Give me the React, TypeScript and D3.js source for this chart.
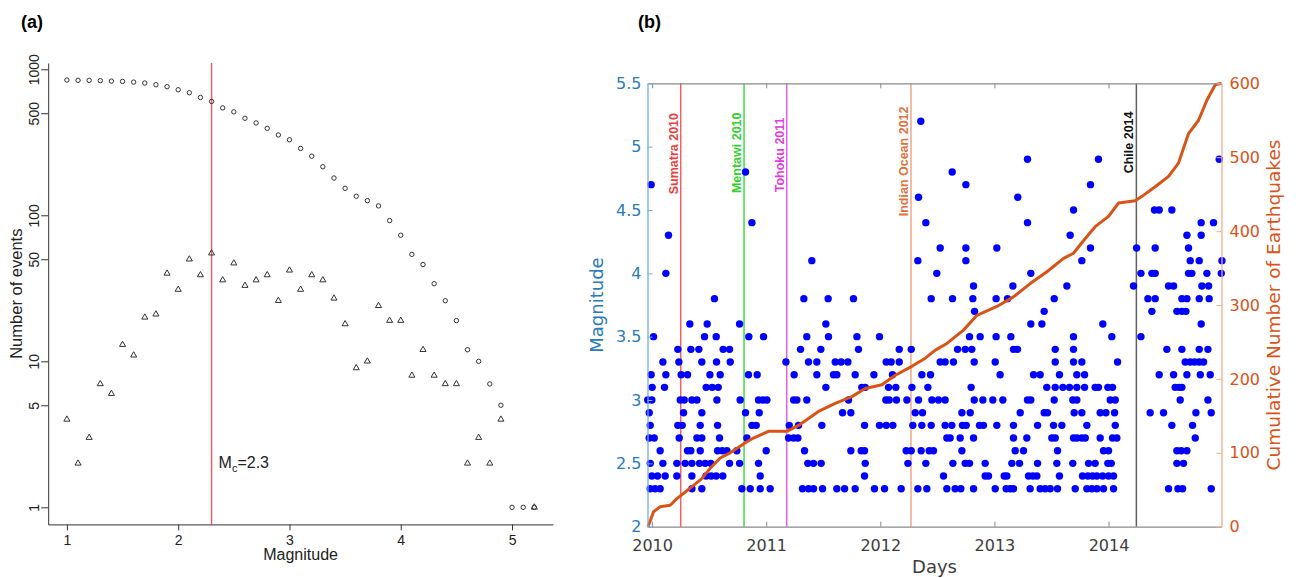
import React, { useEffect, useRef } from 'react';
import * as d3 from 'd3';

// ---------- panel (a): frequency-magnitude distribution ----------
const magBins = [
  1.0, 1.1, 1.2, 1.3, 1.4, 1.5, 1.6, 1.7, 1.8, 1.9, 2.0, 2.1, 2.2, 2.3, 2.4,
  2.5, 2.6, 2.7, 2.8, 2.9, 3.0, 3.1, 3.2, 3.3, 3.4, 3.5, 3.6, 3.7, 3.8, 3.9,
  4.0, 4.1, 4.2, 4.3, 4.4, 4.5, 4.6, 4.7, 4.8, 4.9, 5.0, 5.1, 5.2,
];
// cumulative number of events (circles)
const cumulativeEvents = [
  844, 840, 840, 836, 830, 826, 817, 805, 784, 760, 724, 691, 641, 602, 544,
  511, 462, 429, 394, 355, 329, 287, 254, 215, 180, 153, 135, 126, 116, 92,
  73, 54, 46, 34, 26, 19, 12, 10, 7, 5, 1, 1, 1,
];
// non-cumulative number of events per bin (triangles)
const binEvents: (number | null)[] = [
  4, 2, 3, 7, 6, 13, 11, 20, 21, 40, 31, 50, 39, 55, 36,
  47, 33, 36, 39, 26, 42, 31, 39, 36, 27, 18, 9, 10, 24, 19,
  19, 8, 12, 8, 7, 7, 2, 3, 2, 4, null, null, 1,
];
const countTicks = [1, 5, 10, 50, 100, 500, 1000];
const magTicks = [1, 2, 3, 4, 5];
const completenessMag = 2.3;

// ---------- panel (b): events through time ----------
const magnitudeRows = [
  2.3, 2.4, 2.5, 2.6, 2.7, 2.8, 2.9, 3.0, 3.1, 3.2, 3.3, 3.4, 3.5, 3.6, 3.7,
  3.8, 3.9, 4.0, 4.1, 4.2, 4.3, 4.4, 4.5, 4.6, 4.7, 4.8, 4.9, 5.2,
];
// event times (decimal years), one list per magnitude row
const eventYears: number[][] = [
  [2009.984, 2010.027, 2010.071, 2010.349, 2010.436, 2010.787, 2010.86, 2010.948, 2011.035, 2011.318, 2011.371, 2011.415, 2011.494, 2011.619, 2011.687, 2011.78, 2011.949, 2012.037, 2012.183, 2012.329, 2012.408, 2012.583, 2012.656, 2012.706, 2012.817, 2013.007, 2013.103, 2013.138, 2013.167, 2013.313, 2013.401, 2013.445, 2013.489, 2013.553, 2013.708, 2013.81, 2013.854, 2013.898, 2013.956, 2014.044, 2014.526, 2014.608, 2014.649, 2014.9],
  [2009.998, 2010.048, 2010.115, 2010.217, 2010.349, 2010.474, 2010.518, 2010.562, 2010.62, 2010.948, 2011.862, 2012.554, 2012.919, 2012.948, 2013.086, 2013.109, 2013.299, 2013.337, 2013.372, 2013.57, 2013.772, 2013.819, 2013.86, 2013.898, 2013.948, 2014.0, 2014.044],
  [2009.984, 2010.095, 2010.217, 2010.29, 2010.349, 2010.416, 2010.466, 2010.515, 2010.679, 2010.767, 2010.933, 2011.365, 2011.415, 2011.482, 2011.868, 2012.242, 2012.399, 2012.636, 2012.744, 2012.782, 2012.919, 2013.153, 2013.22, 2013.378, 2013.547, 2013.687, 2013.825, 2013.883, 2013.994, 2014.024, 2014.599, 2014.657],
  [2010.071, 2010.311, 2010.34, 2010.422, 2010.574, 2010.615, 2010.656, 2010.743, 2011.0, 2011.336, 2011.742, 2011.833, 2011.862, 2012.227, 2012.271, 2012.358, 2012.429, 2012.466, 2012.715, 2013.182, 2013.255, 2013.553, 2013.956, 2014.0, 2014.599, 2014.637, 2014.687],
  [2009.975, 2010.019, 2010.238, 2010.393, 2010.436, 2010.591, 2010.831, 2011.196, 2011.24, 2011.278, 2012.583, 2012.612, 2012.7, 2012.817, 2013.167, 2013.284, 2013.503, 2013.533, 2013.693, 2013.722, 2013.766, 2013.796, 2013.927, 2014.035, 2014.073, 2014.76],
  [2009.984, 2010.226, 2010.264, 2010.422, 2010.574, 2010.875, 2010.913, 2011.202, 2011.283, 2011.488, 2011.862, 2011.993, 2012.052, 2012.11, 2012.285, 2012.364, 2012.446, 2012.568, 2012.627, 2012.72, 2012.753, 2012.869, 2012.904, 2013.021, 2013.167, 2013.378, 2013.518, 2013.591, 2013.81, 2014.059, 2014.555, 2014.736],
  [2009.975, 2010.276, 2010.436, 2010.819, 2010.939, 2011.669, 2011.742, 2012.306, 2012.37, 2012.715, 2012.788, 2013.226, 2013.436, 2013.465, 2013.699, 2013.766, 2013.927, 2013.977, 2014.053, 2014.365, 2014.482, 2014.766, 2014.9],
  [2009.962, 2009.998, 2010.247, 2010.282, 2010.349, 2010.393, 2010.568, 2010.772, 2010.933, 2010.971, 2011.006, 2011.24, 2011.269, 2011.356, 2011.722, 2012.049, 2012.078, 2012.142, 2012.233, 2012.335, 2012.452, 2012.51, 2012.568, 2012.823, 2012.899, 2012.986, 2013.074, 2013.29, 2013.319, 2013.524, 2013.687, 2013.722, 2014.015, 2014.059, 2014.628, 2014.871],
  [2010.001, 2010.109, 2010.474, 2010.527, 2010.58, 2011.523, 2011.838, 2011.868, 2012.072, 2012.136, 2012.277, 2012.417, 2012.796, 2013.459, 2013.533, 2013.6, 2013.658, 2013.722, 2013.79, 2013.883, 2013.912, 2013.994, 2014.035, 2014.584, 2014.619, 2014.643],
  [2009.992, 2010.121, 2010.255, 2010.311, 2010.507, 2010.597, 2010.845, 2010.921, 2011.245, 2011.444, 2011.59, 2011.619, 2011.78, 2011.944, 2012.107, 2012.364, 2012.44, 2013.05, 2013.343, 2013.401, 2013.57, 2013.722, 2013.79, 2014.444, 2014.57, 2014.687, 2014.804, 2014.891],
  [2010.095, 2010.235, 2010.436, 2010.565, 2010.685, 2011.173, 2011.371, 2011.444, 2011.605, 2011.657, 2011.716, 2012.052, 2012.095, 2012.166, 2012.525, 2012.568, 2012.641, 2012.823, 2013.007, 2013.533, 2013.693, 2013.766, 2014.079, 2014.672, 2014.716, 2014.754, 2014.795, 2014.833],
  [2010.226, 2010.34, 2010.41, 2010.623, 2010.679, 2011.301, 2011.479, 2011.809, 2012.166, 2012.271, 2012.677, 2012.744, 2012.802, 2013.167, 2013.202, 2013.533, 2013.693, 2014.511, 2014.643, 2014.795, 2014.871],
  [2010.013, 2010.46, 2010.562, 2010.848, 2010.977, 2011.356, 2011.546, 2011.795, 2011.993, 2012.782, 2012.875, 2013.015, 2013.144, 2013.693, 2014.029, 2014.284],
  [2010.331, 2010.483, 2010.767, 2011.523, 2013.319, 2013.416, 2013.95, 2014.812],
  [2012.826, 2013.436, 2014.38, 2014.599, 2014.643, 2014.678],
  [2010.547, 2011.33, 2011.543, 2011.765, 2012.446, 2012.633, 2012.811, 2013.015, 2013.115, 2013.524, 2014.345, 2014.409, 2014.643, 2014.687, 2014.795, 2014.882],
  [2012.817, 2013.162, 2013.635, 2014.219, 2014.526, 2014.57, 2014.818, 2014.877],
  [2010.121, 2012.495, 2013.319, 2014.284, 2014.38, 2014.409, 2014.701, 2014.73, 2014.862, 2014.988],
  [2011.4, 2012.329, 2012.75, 2013.766, 2014.716, 2014.795, 2014.994],
  [2012.525, 2012.75, 2013.021, 2013.842, 2014.246, 2014.409, 2014.701],
  [2010.144, 2013.664, 2014.687, 2014.812],
  [2010.875, 2012.399, 2013.29, 2014.812, 2014.92],
  [2013.693, 2014.403, 2014.444, 2014.555],
  [2012.335, 2013.205],
  [2009.992, 2012.75, 2013.842],
  [2010.819, 2012.63],
  [2013.29, 2013.912, 2014.97],
  [2012.355],
];

// cumulative number of earthquakes (right axis)
const cumYears = [
  2009.965, 2010.012, 2010.071, 2010.159, 2010.217, 2010.275, 2010.363, 2010.436,
  2010.509, 2010.597, 2010.684, 2010.772, 2010.831, 2010.889, 2010.976, 2011.02,
  2011.181, 2011.283, 2011.458, 2011.605, 2011.751, 2011.868, 2012.014, 2012.131,
  2012.277, 2012.394, 2012.482, 2012.584, 2012.729, 2012.847, 2013.022, 2013.167,
  2013.314, 2013.46, 2013.606, 2013.693, 2013.796, 2013.883, 2014.0, 2014.088,
  2014.234, 2014.293, 2014.409, 2014.526, 2014.613, 2014.701, 2014.789, 2014.862,
  2014.935, 2014.99,
];
const cumCounts = [
  0, 20, 27, 29, 38, 45, 56, 65,
  79, 93, 100, 109, 115, 120, 126, 129,
  129, 137, 156, 167, 176, 187, 192, 205,
  217, 228, 239, 248, 266, 286, 298, 311,
  329, 345, 363, 370, 390, 406, 420, 438,
  441, 447, 460, 474, 492, 532, 550, 577,
  598, 600,
];

const mainshockNames = ['Sumatra 2010', 'Mentawi 2010', 'Tohoku 2011', 'Indian Ocean 2012', 'Chile 2014'];
const mainshockYears = [2010.251, 2010.806, 2011.18, 2012.269, 2014.244];

const yearTicks = [2010, 2011, 2012, 2013, 2014];
const magAxisTicks = [2, 2.5, 3, 3.5, 4, 4.5, 5, 5.5];
const countAxisTicks = [0, 100, 200, 300, 400, 500, 600];

// styling for the mainshock markers (line colour, text colour, top of label)
const mainshockStyle = [
  { line: '#f06060', text: '#e8403c', top: 113 },
  { line: '#3ee03e', text: '#30d030', top: 112.5 },
  { line: '#e35ee3', text: '#df3ddf', top: 117.5 },
  { line: '#f0a886', text: '#e0703a', top: 106.5 },
  { line: '#606060', text: '#111111', top: 111.5 },
];

const ARIAL = 'Liberation Sans, Arial, Helvetica, sans-serif';
const DEJAVU = 'DejaVu Sans, Verdana, sans-serif';

type G = d3.Selection<SVGGElement, unknown, null, undefined>;

function drawPanelA(g: G) {
  const left = 48.2, right = 553, top = 63, bottom = 524.4;
  const x = d3.scaleLinear().domain([0.832, 5.368]).range([left, right]);
  const y = d3.scaleLog().domain([10 ** -0.117, 10 ** 3.043]).range([bottom, top]);

  // completeness line
  g.append('line')
    .attr('x1', x(completenessMag)).attr('x2', x(completenessMag))
    .attr('y1', top).attr('y2', bottom)
    .attr('stroke', '#e65a5a').attr('stroke-width', 1.4);

  // cumulative counts: open circles
  g.selectAll('.cum')
    .data(magBins)
    .enter()
    .append('circle')
    .attr('cx', (d) => x(d))
    .attr('cy', (d, i) => y(cumulativeEvents[i]))
    .attr('r', 2.2)
    .attr('fill', 'none')
    .attr('stroke', '#333')
    .attr('stroke-width', 1);

  // per-bin counts: open triangles
  const tri = d3.symbol().type(d3.symbolTriangle).size(16);
  const binData = magBins
    .map((m, i) => ({ m, n: binEvents[i] }))
    .filter((d) => d.n !== null) as { m: number; n: number }[];
  g.selectAll('.bin')
    .data(binData)
    .enter()
    .append('path')
    .attr('d', tri)
    .attr('transform', (d) => `translate(${x(d.m)},${y(d.n)})`)
    .attr('fill', 'none')
    .attr('stroke', '#333')
    .attr('stroke-width', 1);

  // axes (L-shaped box)
  const yAxis = g.append('g')
    .attr('transform', `translate(${left},0)`)
    .call(d3.axisLeft(y).tickValues(countTicks).tickSize(7).tickSizeOuter(0).tickFormat(d3.format('d')));
  yAxis.select('.domain').attr('stroke', '#333');
  yAxis.selectAll('.tick line').attr('stroke', '#333');
  yAxis.selectAll('.tick text')
    .attr('x', null).attr('dy', null)
    .attr('transform', 'translate(-9,0) rotate(-90)')
    .attr('text-anchor', 'middle')
    .attr('font-size', 14).attr('font-family', ARIAL).attr('fill', '#222');

  const xAxis = g.append('g')
    .attr('transform', `translate(0,${bottom})`)
    .call(d3.axisBottom(x).tickValues(magTicks).tickSize(6).tickSizeOuter(0).tickPadding(5).tickFormat(d3.format('d')));
  xAxis.select('.domain').attr('stroke', '#333');
  xAxis.selectAll('.tick line').attr('stroke', '#333');
  xAxis.selectAll('.tick text').attr('font-size', 14).attr('font-family', ARIAL).attr('fill', '#222');

  g.append('text')
    .attr('x', (left + right) / 2).attr('y', 560)
    .attr('text-anchor', 'middle')
    .attr('font-size', 16).attr('font-family', ARIAL).attr('fill', '#222')
    .text('Magnitude');

  g.append('text')
    .attr('transform', `translate(22,${(top + bottom) / 2}) rotate(-90)`)
    .attr('text-anchor', 'middle')
    .attr('font-size', 16.5).attr('font-family', ARIAL).attr('fill', '#222')
    .text('Number of events');

  const mc = g.append('text')
    .attr('x', x(completenessMag) + 7).attr('y', 468)
    .attr('font-size', 16).attr('font-family', ARIAL).attr('fill', '#222');
  mc.append('tspan').text('M');
  mc.append('tspan').attr('font-size', 11).attr('dy', 4).text('c');
  mc.append('tspan').attr('dy', -4).text('=' + completenessMag);

  g.append('text')
    .attr('x', 21).attr('y', 28)
    .attr('font-size', 18).attr('font-weight', 'bold').attr('font-family', ARIAL)
    .text('(a)');
}

function drawPanelB(g: G) {
  const left = 647.5, right = 1221.5, top = 83.3, bottom = 526.7;
  const x = d3.scaleLinear().domain([2009.96, 2014.99]).range([left, right]);
  const yMag = d3.scaleLinear().domain([2, 5.5]).range([bottom, top]);
  const yCount = d3.scaleLinear().domain([0, 600]).range([bottom, top]);

  // mainshock lines
  mainshockYears.forEach((yr, i) => {
    const st = mainshockStyle[i];
    g.append('line')
      .attr('x1', x(yr)).attr('x2', x(yr))
      .attr('y1', top).attr('y2', bottom)
      .attr('stroke', st.line).attr('stroke-width', 1.5);
  });

  // events
  const points = magnitudeRows.flatMap((m, i) => eventYears[i].map((yr) => ({ yr, m })));
  g.selectAll('.quake')
    .data(points)
    .enter()
    .append('circle')
    .attr('cx', (d) => x(d.yr))
    .attr('cy', (d) => yMag(d.m))
    .attr('r', 3.7)
    .attr('fill', '#0000ff');

  // cumulative curve
  const line = d3.line<number>()
    .x((d) => x(d))
    .y((d, i) => yCount(cumCounts[i]));
  g.append('path')
    .datum(cumYears)
    .attr('fill', 'none')
    .attr('stroke', '#d95319')
    .attr('stroke-width', 3)
    .attr('stroke-linejoin', 'round')
    .attr('d', line);

  // mainshock labels
  mainshockYears.forEach((yr, i) => {
    const st = mainshockStyle[i];
    g.append('text')
      .attr('transform', `translate(${x(yr) - 3},${st.top}) rotate(-90)`)
      .attr('text-anchor', 'end')
      .attr('font-size', 12.5).attr('font-weight', 'bold').attr('font-family', ARIAL)
      .attr('fill', st.text)
      .text(mainshockNames[i]);
  });

  // top and bottom axes
  const topAxis = g.append('g')
    .attr('transform', `translate(0,${top})`)
    .call(d3.axisTop(x).tickValues(yearTicks).tickSize(-5).tickSizeOuter(0).tickFormat(() => ''));
  topAxis.select('.domain').attr('stroke', '#8a8a8a').attr('stroke-width', 1.3);
  topAxis.selectAll('.tick line').attr('stroke', '#8a8a8a');

  const bottomAxis = g.append('g')
    .attr('transform', `translate(0,${bottom})`)
    .call(d3.axisBottom(x).tickValues(yearTicks).tickSize(-5).tickSizeOuter(0).tickPadding(13).tickFormat(d3.format('d')));
  bottomAxis.select('.domain').attr('stroke', '#8a8a8a').attr('stroke-width', 1.3);
  bottomAxis.selectAll('.tick line').attr('stroke', '#8a8a8a');
  bottomAxis.selectAll('.tick text').attr('font-size', 16).attr('font-family', DEJAVU).attr('fill', '#3c3c3c');

  // left magnitude axis
  const leftAxis = g.append('g')
    .attr('transform', `translate(${left},0)`)
    .call(d3.axisLeft(yMag).tickValues(magAxisTicks).tickSize(-5).tickSizeOuter(0).tickPadding(6).tickFormat(d3.format('')));
  leftAxis.select('.domain').attr('stroke', '#72aee0').attr('stroke-width', 1.3);
  leftAxis.selectAll('.tick line').attr('stroke', '#72aee0');
  leftAxis.selectAll('.tick text').attr('font-size', 16).attr('font-family', DEJAVU).attr('fill', '#2a7ab8');

  // right cumulative axis
  const rightAxis = g.append('g')
    .attr('transform', `translate(${right},0)`)
    .call(d3.axisRight(yCount).tickValues(countAxisTicks).tickSize(-5).tickSizeOuter(0).tickPadding(8).tickFormat(d3.format('d')));
  rightAxis.select('.domain').attr('stroke', '#f0ae90').attr('stroke-width', 1.3);
  rightAxis.selectAll('.tick line').attr('stroke', '#f0ae90');
  rightAxis.selectAll('.tick text').attr('font-size', 16).attr('font-family', DEJAVU).attr('fill', '#d95319');

  // axis titles
  g.append('text')
    .attr('x', (left + right) / 2).attr('y', 573)
    .attr('text-anchor', 'middle')
    .attr('font-size', 18).attr('font-family', DEJAVU).attr('fill', '#3c3c3c')
    .text('Days');

  g.append('text')
    .attr('transform', `translate(603,${(top + bottom) / 2}) rotate(-90)`)
    .attr('text-anchor', 'middle')
    .attr('font-size', 18).attr('font-family', DEJAVU).attr('fill', '#2a7ab8')
    .text('Magnitude');

  g.append('text')
    .attr('transform', `translate(1280,${(top + bottom) / 2}) rotate(-90)`)
    .attr('text-anchor', 'middle')
    .attr('font-size', 18.5).attr('font-family', DEJAVU).attr('fill', '#d95319')
    .text('Cumulative Number of Earthquakes');

  g.append('text')
    .attr('x', 638).attr('y', 28)
    .attr('font-size', 18).attr('font-weight', 'bold').attr('font-family', ARIAL)
    .text('(b)');
}

export default function App() {
  const svgRef = useRef<SVGSVGElement>(null);

  useEffect(() => {
    if (!svgRef.current) return;
    const svg = d3.select(svgRef.current);
    svg.selectAll('*').remove();
    drawPanelA(svg.append('g') as G);
    drawPanelB(svg.append('g') as G);
  }, []);

  return (
    <svg
      ref={svgRef}
      width={1299}
      height={578}
      style={{ position: 'absolute', left: 0, top: 0, background: '#fff' }}
    />
  );
}
